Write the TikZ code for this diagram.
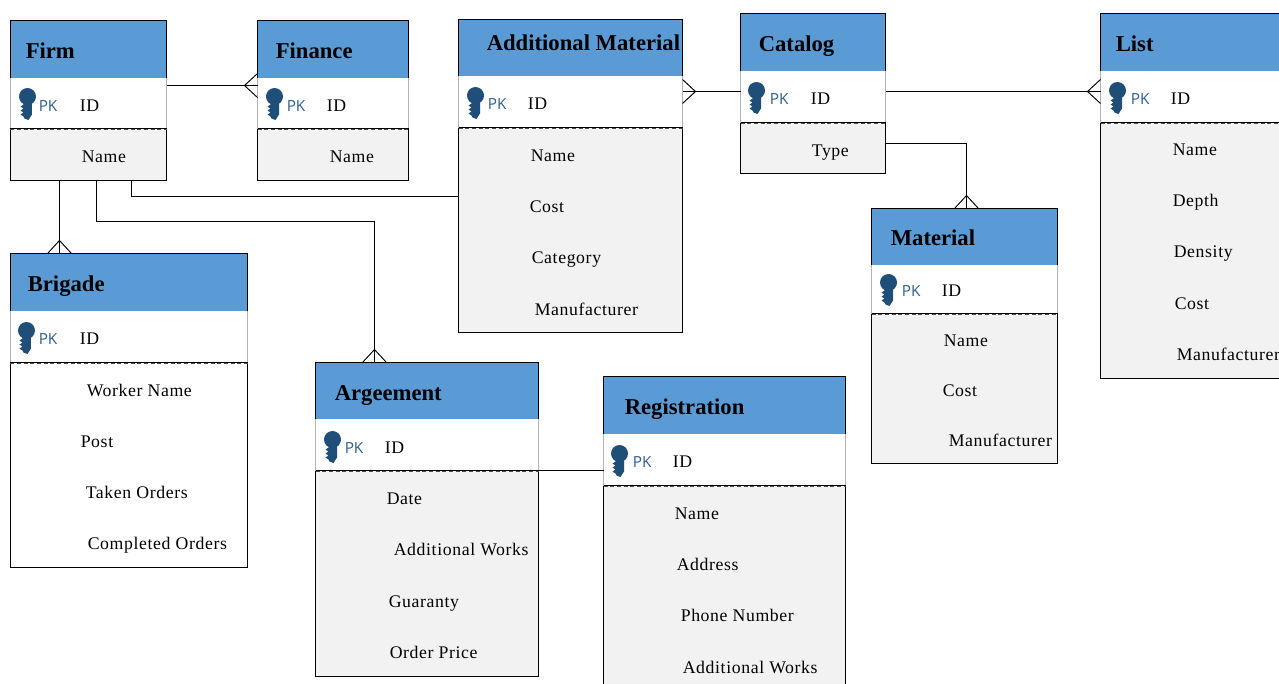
\documentclass[tikz,border=0pt]{standalone}
\usepackage{fontspec}
\setmainfont{Liberation Serif}
\newfontfamily\pkfont{Open Sans}
\newfontfamily\attrfont[LetterSpace=3.5]{Liberation Serif}
\usetikzlibrary{calc}
\usetikzlibrary{positioning}
\definecolor{headblue}{HTML}{5B9BD5}
\definecolor{bodygray}{HTML}{F2F2F2}
\definecolor{keyblue}{HTML}{1F4E79}
\definecolor{pkblue}{HTML}{2F5F8F}
\tikzset{
  partbox/.style={rectangle,inner sep=0pt,outer sep=0pt,anchor=north west},
  headbox/.style={partbox,fill=headblue},
  idbox/.style={partbox,draw=black!30,fill=white,line width=0.4pt},
  attrbox/.style={partbox,draw=black,line width=0.7pt},
  titletext/.style={anchor=base west,inner sep=0pt,font=\bfseries\fontsize{17}{18}\selectfont},
  attrtext/.style={anchor=base west,inner sep=0pt,font=\attrfont\fontsize{13.3}{15}\selectfont},
  pktext/.style={anchor=base west,inner sep=0pt,text=pkblue,font=\pkfont\fontsize{11.5}{13}\selectfont},
  link/.style={draw=black,line width=0.7pt},
  keyicon/.pic={
    \fill[keyblue] (0,0) circle (8.5);
    \fill[keyblue] (-4,4) -- (4.5,4) -- (4.5,18) -- (1,23.5) -- (-3,22) -- (-4,20) -- (-7,18) -- (-4,16) -- (-7,14) -- (-4,12) -- (-7,10) -- (-4,8) -- cycle;
  }
}
% name, x left, y top, x right, y head end, y id end, y bottom, body colour
\newcommand{\entity}[8]{
  \node[attrbox,fill=#8,minimum width={(#4-#2)*0.75pt},minimum height={(#7-#6)*0.75pt}] (#1attr) at (#2,#6) {};
  \node[idbox,minimum width={(#4-#2)*0.75pt},minimum height={(#6-#5)*0.75pt}] (#1id) at (#2,#5) {};
  \node[headbox,minimum width={(#4-#2)*0.75pt},minimum height={(#5-#3)*0.75pt}] (#1head) at (#2,#3) {};
  \draw[attrbox] (#1head.south west) |- (#1head.north east) -- (#1head.south east);
  \draw[line width=0.8pt] (#1id.south west) -- (#1id.south east);
  \draw[line width=0.5pt,densely dashed,black!70] ([yshift=-0.8pt]#1id.south west) -- ([yshift=-0.8pt]#1id.south east);
}
% point on the box edge, rotation
\newcommand{\crowfoot}[2]{
  \draw[link,shift={#1},rotate=#2] (0,-12) -- (13,0) -- (0,12);
}
\begin{document}
\begin{tikzpicture}[x=0.75pt,y=-0.75pt,line cap=butt,line join=miter]
        \path[use as bounding box,clip] (0.5,0.5) rectangle (1279.5,683.5);
        % 
        \entity{firm}{11}{21}{167}{78}{129}{181}{bodygray}
        \node[titletext] (firmtitle) at (26,59) {Firm};
        \pic at (28,97) {keyicon};
        \node[pktext] (firmpk) at (39,112) {PK};
        \node[attrtext] (firmkey) at (80,112) {ID};
        \node[attrtext] (firmname) at (82,163) {Name};
        % 
        \entity{fin}{258}{21}{409}{78}{129}{181}{bodygray}
        \node[titletext] (fintitle) at (276,59) {Finance};
        \pic at (275,97) {keyicon};
        \node[pktext] (finpk) at (287,112) {PK};
        \node[attrtext] (finkey) at (327,112) {ID};
        \node[attrtext] (finname) at (330,163) {Name};
        % 
        \entity{add}{459}{20}{683}{76}{128}{333}{bodygray}
        \node[titletext] (addtitle) at (487,51) {Additional Material};
        \pic at (476,96) {keyicon};
        \node[pktext] (addpk) at (488,110) {PK};
        \node[attrtext] (addkey) at (528,110) {ID};
        \node[attrtext] (addname) at (531,162) {Name};
        \node[attrtext] (addcost) at (530,213) {Cost};
        \node[attrtext] (addcat) at (532,264) {Category};
        \node[attrtext] (addmanu) at (535,316) {Manufacturer};
        % 
        \entity{cat}{741}{14}{886}{71}{123}{174}{bodygray}
        \node[titletext] (cattitle) at (759,52) {Catalog};
        \pic at (757,91) {keyicon};
        \node[pktext] (catpk) at (770,105) {PK};
        \node[attrtext] (catkey) at (811,105) {ID};
        \node[attrtext] (cattype) at (812,157) {Type};
        % 
        \entity{list}{1101}{14}{1300}{71}{123}{379}{bodygray}
        \node[titletext] (listtitle) at (1116,52) {List};
        \pic at (1118,91) {keyicon};
        \node[pktext] (listpk) at (1131,105) {PK};
        \node[attrtext] (listkey) at (1171,105) {ID};
        \node[attrtext] (listname) at (1173,156) {Name};
        \node[attrtext] (listdepth) at (1173,207) {Depth};
        \node[attrtext] (listdens) at (1174,258) {Density};
        \node[attrtext] (listcost) at (1175,310) {Cost};
        \node[attrtext] (listmanu) at (1177,361) {Manufacturer};
        % 
        \entity{mat}{872}{209}{1058}{265}{314}{464}{bodygray}
        \node[titletext] (mattitle) at (891,246) {Material};
        \pic at (889,283) {keyicon};
        \node[pktext] (matpk) at (902,297) {PK};
        \node[attrtext] (matkey) at (942,297) {ID};
        \node[attrtext] (matname) at (944,347) {Name};
        \node[attrtext] (matcost) at (943,397) {Cost};
        \node[attrtext] (matmanu) at (949,447) {Manufacturer};
        % 
        \entity{brig}{11}{254}{248}{311}{363}{568}{white}
        \node[titletext] (brigtitle) at (28,292) {Brigade};
        \pic at (27,331) {keyicon};
        \node[pktext] (brigpk) at (39,345) {PK};
        \node[attrtext] (brigkey) at (80,345) {ID};
        \node[attrtext] (brigname) at (87,397) {Worker Name};
        \node[attrtext] (brigpost) at (81,448) {Post};
        \node[attrtext] (brigtaken) at (86,499) {Taken Orders};
        \node[attrtext] (brigdone) at (88,550) {Completed Orders};
        % 
        \entity{agr}{316}{363}{539}{419}{471}{677}{bodygray}
        \node[titletext] (agrtitle) at (335,401) {Argeement};
        \pic at (333,440) {keyicon};
        \node[pktext] (agrpk) at (345,454) {PK};
        \node[attrtext] (agrkey) at (385,454) {ID};
        \node[attrtext] (agrdate) at (387,505) {Date};
        \node[attrtext] (agrworks) at (394,556) {Additional Works};
        \node[attrtext] (agrguar) at (389,608) {Guaranty};
        \node[attrtext] (agrprice) at (390,659) {Order Price};
        % 
        \entity{reg}{604}{377}{846}{434}{486}{700}{bodygray}
        \node[titletext] (regtitle) at (625,415) {Registration};
        \pic at (620,454) {keyicon};
        \node[pktext] (regpk) at (633,468) {PK};
        \node[attrtext] (regkey) at (673,468) {ID};
        \node[attrtext] (regname) at (675,520) {Name};
        \node[attrtext] (regaddr) at (677,571) {Address};
        \node[attrtext] (regphone) at (681,622) {Phone Number};
        \node[attrtext] (regworks) at (683,674) {Additional Works};
        % 
        \coordinate (firmfin) at ([yshift=-6pt]firmid.north east);
        \draw[link] (firmfin) -- (firmfin -| finid.west);
        \crowfoot{(firmfin -| finid.west)}{180}
        % 
        \coordinate (addcatal) at ([yshift=-12pt]addid.north east);
        \draw[link] (addcatal) -- (addcatal -| catid.west);
        \crowfoot{(addcatal)}{0}
        % 
        \coordinate (catlist) at ([yshift=-15.75pt]catid.north east);
        \draw[link] (catlist) -- (catlist -| listid.west);
        \crowfoot{(catlist -| listid.west)}{180}
        % 
        \coordinate (catmat) at ([yshift=-15.75pt]catattr.north east);
        \coordinate (mattop) at ([xshift=1.5pt]mathead.north);
        \draw[link] (catmat) -| (mattop);
        \crowfoot{(mattop)}{90}
        % 
        \coordinate (firmbrig) at ([xshift=36.75pt]firmattr.south west);
        \draw[link] (firmbrig) -- (firmbrig |- brighead.north);
        \crowfoot{(firmbrig |- brighead.north)}{90}
        % 
        \coordinate (firmadd) at ([xshift=90.75pt]firmattr.south west);
        \coordinate (addside) at ([yshift=-51.75pt]addattr.north west);
        \draw[link] (firmadd) |- (addside);
        % 
        \coordinate (firmagr) at ([xshift=64.5pt]firmattr.south west);
        \coordinate (agrtop) at ([xshift=44.25pt]agrhead.north west);
        \draw[link] (firmagr) -- ++(0,41) -| (agrtop);
        \crowfoot{(agrtop)}{90}
        % 
        \draw[link] (agrid.south east) -- (agrid.south east -| regid.west);
\end{tikzpicture}
\end{document}
